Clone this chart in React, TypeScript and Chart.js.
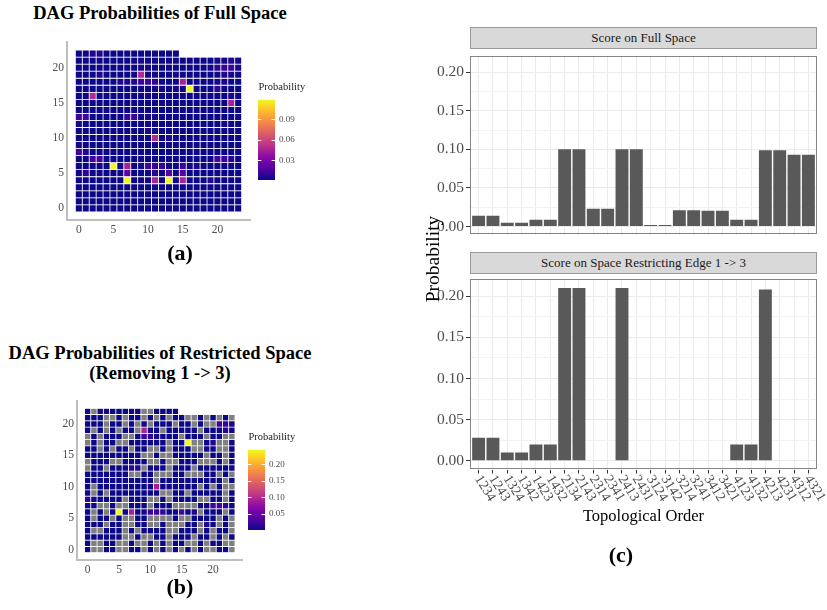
import React, { useEffect, useRef } from "react";
import { Chart, registerables } from "chart.js";

Chart.register(...registerables);

const SERIF = "'Liberation Serif', 'Times New Roman', Times, serif";

// ---------------- data ----------------
const TOPO_ORDERS = [
  "1234", "1243", "1324", "1342", "1423", "1432",
  "2134", "2143", "2314", "2341", "2413", "2431",
  "3124", "3142", "3214", "3241", "3412", "3421",
  "4123", "4132", "4213", "4231", "4312", "4321",
];
const FULL_SPACE_SCORE = [
  0.014, 0.014, 0.005, 0.005, 0.009, 0.009,
  0.1, 0.1, 0.023, 0.023, 0.1, 0.1,
  0.002, 0.002, 0.021, 0.021, 0.0205, 0.0205,
  0.009, 0.009, 0.099, 0.099, 0.093, 0.093,
];
const RESTRICTED_SPACE_SCORE = [
  0.028, 0.028, 0.01, 0.01, 0.02, 0.02,
  0.21, 0.21, 0, 0, 0.21, 0,
  0, 0, 0, 0, 0, 0,
  0.02, 0.02, 0.208, 0, 0, 0,
];
const BAR_Y_MAJOR = [0, 0.05, 0.1, 0.15, 0.2];
const BAR_Y_MINOR = [0.025, 0.075, 0.125, 0.175];
const BAR_Y_LABELS = ["0.00", "0.05", "0.10", "0.15", "0.20"];

const HEAT_AXIS_TICKS = [0, 5, 10, 15, 20];
const FULL_LEGEND_BREAKS = [0.03, 0.06, 0.09];
const FULL_LEGEND_LABELS = ["0.03", "0.06", "0.09"];
const RESTRICTED_LEGEND_BREAKS = [0.05, 0.1, 0.15, 0.2];
const RESTRICTED_LEGEND_LABELS = ["0.05", "0.10", "0.15", "0.20"];

const _ = null; // DAG not in the space (drawn grey)

// rows listed from the top of the grid (y = 22) down to y = 0; column = x
const FULL_DAG_ROWS = [
  [0.001, 0.001, 0.004, 0.006, 0.001, 0.001, 0.001, 0.002, 0.001, 0.001, 0.001, 0.002, 0.001, 0.001, 0.001],
  [0.001, 0.001, 0.001, 0.002, 0.001, 0.001, 0.001, 0.001, 0.001, 0.003, 0.001, 0.001, 0.001, 0.001, 0.002, 0.001, 0.001, 0.002, 0.001, 0.001, 0.003, 0.002, 0.005, 0.003],
  [0.001, 0.001, 0.001, 0.002, 0.001, 0.001, 0.001, 0.002, 0.001, 0.004, 0.003, 0.001, 0.001, 0.001, 0.001, 0.001, 0.001, 0.001, 0.001, 0.002, 0.008, 0.01, 0.012, 0.004],
  [0.001, 0.001, 0.001, 0.006, 0.001, 0.001, 0.001, 0.001, 0.002, 0.048, 0.002, 0.003, 0.001, 0.001, 0.003, 0.001, 0.001, 0.001, 0.001, 0.001, 0.002, 0.005, 0.003, 0.001],
  [0.001, 0.001, 0.001, 0.001, 0.001, 0.001, 0.005, 0.004, 0.005, 0.012, 0.011, 0.009, 0.001, 0.001, 0.001, 0.045, 0.001, 0.001, 0.001, 0.001, 0.003, 0.004, 0.001, 0.001],
  [0.001, 0.001, 0.001, 0.001, 0.001, 0.001, 0.001, 0.001, 0.001, 0.001, 0.001, 0.002, 0.003, 0.001, 0.003, 0.001, 0.119, 0.001, 0.001, 0.001, 0.008, 0.002, 0.001, 0.001],
  [0.001, 0.001, 0.048, 0.001, 0.001, 0.001, 0.001, 0.001, 0.001, 0.001, 0.003, 0.001, 0.001, 0.001, 0.001, 0.001, 0.001, 0.001, 0.001, 0.002, 0.001, 0.001, 0.004, 0.001],
  [0.001, 0.001, 0.001, 0.001, 0.001, 0.001, 0.001, 0.001, 0.002, 0.001, 0.001, 0.001, 0.003, 0.001, 0.001, 0.001, 0.001, 0.001, 0.001, 0.001, 0.001, 0.001, 0.045, 0.001],
  [0.001, 0.001, 0.001, 0.001, 0.003, 0.001, 0.001, 0.001, 0.001, 0.001, 0.001, 0.001, 0.001, 0.001, 0.001, 0.001, 0.001, 0.003, 0.001, 0.001, 0.001, 0.001, 0.001, 0.001],
  [0.012, 0.014, 0.001, 0.001, 0.001, 0.001, 0.001, 0.01, 0.012, 0.001, 0.004, 0.004, 0.001, 0.001, 0.001, 0.001, 0.001, 0.001, 0.001, 0.001, 0.001, 0.001, 0.001, 0.001],
  [0.004, 0.001, 0.001, 0.001, 0.001, 0.001, 0.001, 0.001, 0.001, 0.001, 0.001, 0.001, 0.001, 0.001, 0.001, 0.001, 0.001, 0.001, 0.001, 0.001, 0.001, 0.003, 0.001, 0.001],
  [0.001, 0.001, 0.001, 0.001, 0.001, 0.001, 0.001, 0.001, 0.001, 0.001, 0.003, 0.001, 0.001, 0.001, 0.001, 0.001, 0.001, 0.001, 0.001, 0.001, 0.001, 0.001, 0.001, 0.001],
  [0.001, 0.001, 0.001, 0.001, 0.001, 0.001, 0.001, 0.001, 0.001, 0.001, 0.001, 0.048, 0.001, 0.005, 0.003, 0.001, 0.001, 0.001, 0.001, 0.001, 0.001, 0.001, 0.001, 0.001],
  [0.004, 0.001, 0.001, 0.001, 0.001, 0.001, 0.001, 0.001, 0.001, 0.001, 0.001, 0.001, 0.001, 0.001, 0.001, 0.001, 0.001, 0.001, 0.001, 0.001, 0.001, 0.001, 0.001, 0.001],
  [0.012, 0.005, 0.001, 0.001, 0.001, 0.001, 0.001, 0.001, 0.001, 0.001, 0.001, 0.001, 0.001, 0.001, 0.001, 0.001, 0.001, 0.001, 0.001, 0.001, 0.001, 0.001, 0.001, 0.001],
  [0.001, 0.001, 0.012, 0.014, 0.001, 0.001, 0.001, 0.001, 0.001, 0.003, 0.001, 0.001, 0.001, 0.001, 0.001, 0.001, 0.001, 0.001, 0.001, 0.001, 0.014, 0.011, 0.007, 0.001],
  [0.001, 0.001, 0.001, 0.001, 0.001, 0.119, 0.001, 0.045, 0.001, 0.002, 0.014, 0.01, 0.01, 0.001, 0.001, 0.012, 0.001, 0.005, 0.001, 0.001, 0.001, 0.001, 0.001, 0.001],
  [0.001, 0.009, 0.001, 0.003, 0.001, 0.001, 0.001, 0.02, 0.001, 0.001, 0.001, 0.007, 0.001, 0.02, 0.001, 0.018, 0.001, 0.001, 0.001, 0.001, 0.001, 0.001, 0.001, 0.001],
  [0.001, 0.001, 0.001, 0.001, 0.001, 0.001, 0.001, 0.119, 0.001, 0.001, 0.001, 0.045, 0.001, 0.119, 0.001, 0.045, 0.001, 0.001, 0.001, 0.007, 0.001, 0.001, 0.001, 0.001],
  [0.001, 0.001, 0.001, 0.001, 0.001, 0.001, 0.001, 0.001, 0.001, 0.001, 0.001, 0.001, 0.001, 0.001, 0.001, 0.001, 0.001, 0.001, 0.001, 0.001, 0.001, 0.001, 0.001, 0.001],
  [0.001, 0.001, 0.001, 0.001, 0.001, 0.001, 0.001, 0.001, 0.001, 0.001, 0.001, 0.001, 0.001, 0.001, 0.001, 0.001, 0.001, 0.001, 0.001, 0.001, 0.001, 0.001, 0.001, 0.001],
  [0.001, 0.001, 0.001, 0.001, 0.001, 0.001, 0.001, 0.001, 0.001, 0.001, 0.001, 0.001, 0.001, 0.001, 0.001, 0.001, 0.001, 0.001, 0.001, 0.001, 0.001, 0.001, 0.001, 0.001],
  [0.001, 0.001, 0.001, 0.001, 0.001, 0.001, 0.001, 0.001, 0.001, 0.001, 0.001, 0.001, 0.001, 0.001, 0.001, 0.001, 0.001, 0.001, 0.001, 0.001, 0.001, 0.001, 0.001, 0.001],
];

const RESTRICTED_DAG_ROWS = [
  [0.001, _, 0.005, 0.004, 0.001, 0.001, 0.001, 0.001, 0.001, _, _, 0.001, 0.001, 0.001, 0.001],
  [0.001, 0.001, 0.001, _, _, 0.001, _, 0.001, 0.001, _, 0.001, _, 0.001, _, 0.001, 0.001, _, _, 0.001, _, 0.001, _, 0.001, _],
  [0.001, 0.001, 0.001, _, 0.001, 0.001, _, 0.001, _, 0.004, _, 0.001, 0.001, 0.001, _, 0.001, 0.001, _, 0.001, _, _, 0.025, 0.02, 0.004],
  [0.001, _, 0.001, _, 0.001, _, 0.001, 0.001, _, 0.095, 0.004, 0.001, _, 0.001, 0.001, 0.001, 0.001, 0.001, _, 0.001, 0.001, 0.001, 0.012, 0.001],
  [_, 0.001, _, 0.001, 0.001, 0.001, _, _, 0.001, 0.02, 0.018, 0.008, 0.001, 0.001, 0.001, _, 0.001, 0.001, 0.001, _, 0.001, 0.001, _, _],
  [_, 0.001, _, 0.001, 0.001, _, _, 0.001, 0.001, 0.001, 0.001, 0.001, 0.001, _, 0.001, 0.001, 0.245, _, _, 0.001, 0.012, _, _, 0.001],
  [0.001, 0.001, _, 0.001, _, 0.001, 0.001, _, 0.001, 0.001, _, _, 0.001, _, 0.001, 0.001, 0.001, _, _, 0.001, 0.001, _, _, 0.001],
  [0.001, 0.001, 0.001, 0.001, 0.001, 0.001, 0.001, 0.001, 0.002, _, _, 0.001, _, _, 0.001, 0.001, 0.001, 0.001, 0.001, _, 0.001, 0.001, _, 0.001],
  [_, 0.001, 0.001, 0.001, _, _, 0.001, 0.001, 0.001, 0.001, _, _, 0.001, _, _, 0.001, 0.001, 0.001, _, _, _, 0.001, _, 0.001],
  [_, 0.001, 0.001, _, 0.001, 0.001, 0.001, 0.015, 0.012, _, 0.004, 0.004, 0.001, _, 0.001, 0.001, 0.001, _, 0.001, 0.001, 0.001, 0.001, 0.001, 0.001],
  [0.004, 0.001, 0.001, 0.001, 0.001, 0.001, 0.001, _, _, 0.001, 0.001, _, _, _, 0.001, 0.001, _, _, _, 0.001, 0.001, _, 0.001, _],
  [0.001, 0.001, 0.001, 0.001, 0.001, 0.001, 0.001, 0.001, 0.001, 0.001, 0.004, _, 0.001, 0.001, 0.001, 0.001, 0.001, 0.001, 0.001, 0.001, 0.001, 0.001, _, 0.001],
  [0.001, _, 0.001, 0.001, 0.001, 0.001, 0.001, 0.001, 0.001, 0.001, 0.001, 0.09, 0.001, 0.006, 0.003, 0.001, 0.001, 0.001, _, 0.001, _, 0.001, _, _],
  [0.004, _, 0.001, _, 0.001, 0.001, 0.001, 0.001, 0.001, 0.001, 0.001, 0.001, _, _, 0.001, 0.001, _, 0.001, 0.001, 0.001, 0.001, 0.001, _, 0.001],
  [0.016, 0.006, 0.001, 0.001, 0.001, 0.001, _, 0.001, 0.001, 0.001, _, _, 0.001, _, 0.001, 0.001, 0.001, 0.001, _, _, 0.001, 0.001, _, 0.001],
  [0.001, 0.001, _, _, 0.001, _, _, 0.001, 0.001, 0.004, _, 0.001, 0.001, 0.001, _, _, _, _, 0.001, 0.001, 0.025, 0.03, 0.018, 0.001],
  [0.001, _, 0.001, _, 0.001, 0.245, 0.001, 0.09, 0.001, 0.004, 0.025, 0.02, 0.02, 0.001, 0.001, 0.028, 0.001, 0.008, _, 0.001, 0.001, 0.001, _, 0.001],
  [0.001, _, 0.001, 0.001, _, 0.001, _, _, 0.001, 0.001, _, _, _, _, 0.001, _, _, 0.001, 0.001, 0.001, 0.001, _, 0.001, _],
  [0.001, 0.001, 0.001, _, 0.001, 0.001, _, _, 0.001, 0.001, _, _, 0.001, _, _, _, 0.001, 0.001, _, 0.01, 0.001, _, 0.001, _],
  [0.001, _, _, 0.001, 0.001, 0.001, _, 0.001, _, 0.001, 0.001, 0.001, 0.001, _, _, 0.001, 0.001, 0.001, _, 0.001, _, 0.001, 0.001, _],
  [0.001, 0.001, 0.001, 0.001, 0.001, 0.001, _, _, 0.001, _, _, 0.001, 0.001, _, 0.001, 0.001, 0.001, _, 0.001, 0.001, _, 0.001, _, 0.001],
  [0.001, _, _, 0.001, 0.001, _, _, 0.001, _, _, 0.001, _, 0.001, _, 0.001, 0.001, _, _, 0.001, _, 0.001, 0.001, _, _],
  [0.001, _, _, 0.001, 0.001, _, _, 0.001, 0.001, _, 0.001, _, 0.001, _, 0.001, _, 0.001, _, 0.001, _, _, 0.001, 0.001, _],
];

// plasma palette stops (colour scale, not data)
const PLASMA = [
  "#0d0887", "#41049d", "#6a00a8", "#8f0da4", "#b12a90", "#cc4778",
  "#e16462", "#f2844b", "#fca636", "#fcce25", "#f0f921",
];
const NA_COLOR = "#808080";

// ---------------- helpers ----------------
function hexRgb(h: string) {
  const n = parseInt(h.slice(1), 16);
  return [(n >> 16) & 255, (n >> 8) & 255, n & 255];
}
function plasma(t: number) {
  const c = Math.max(0, Math.min(1, t));
  const p = c * (PLASMA.length - 1);
  const i = Math.min(PLASMA.length - 2, Math.floor(p));
  const f = p - i;
  const a = hexRgb(PLASMA[i]);
  const b = hexRgb(PLASMA[i + 1]);
  const m = a.map((v, k) => Math.round(v + (b[k] - v) * f));
  return `rgb(${m[0]},${m[1]},${m[2]})`;
}
function valueRange(rows: (number | null)[][]) {
  let min = Infinity;
  let max = -Infinity;
  rows.forEach((r) =>
    r.forEach((v) => {
      if (v !== null) {
        min = Math.min(min, v);
        max = Math.max(max, v);
      }
    })
  );
  return { min, max };
}

const noInteraction = {
  animation: false as const,
  responsive: false,
  maintainAspectRatio: false,
  events: [] as any[],
};

function heatConfig(rows: (number | null)[][], padTop: number, padRight: number) {
  const { min, max } = valueRange(rows);
  const topY = rows.length - 1;
  const datasets = rows.map((row, r) => {
    const y = topY - r;
    return {
      data: row.map((_v, x) => ({ x, y: [y - 0.5, y + 0.5] })),
      backgroundColor: row.map((v) => (v === null ? NA_COLOR : plasma((v - min) / (max - min)))),
      borderColor: "rgba(255,255,255,0.65)",
      borderWidth: 0.4,
      borderSkipped: false,
      grouped: false,
      barPercentage: 1,
      categoryPercentage: 1,
      inflateAmount: 0,
    };
  });
  const axisTicks = {
    color: "#4D4D4D",
    font: { family: SERIF, size: 11.5 },
    padding: 3,
    autoSkip: false,
    maxRotation: 0,
  };
  return {
    type: "bar",
    data: { datasets },
    options: {
      ...noInteraction,
      layout: { padding: { top: padTop, right: padRight, left: 0, bottom: 0 } },
      plugins: { legend: { display: false }, tooltip: { enabled: false } },
      scales: {
        x: {
          type: "linear",
          offset: false,
          min: -1.7,
          max: 24.7,
          afterBuildTicks: (a: any) => {
            a.ticks = HEAT_AXIS_TICKS.map((v) => ({ value: v }));
          },
          afterFit: (s: any) => {
            s.height = 25;
          },
          grid: { display: false, drawTicks: false, offset: false },
          border: { display: true, color: "#BEBEBE", width: 2 },
          ticks: axisTicks,
        },
        y: {
          type: "linear",
          offset: false,
          min: -1.65,
          max: 23.65,
          afterBuildTicks: (a: any) => {
            a.ticks = HEAT_AXIS_TICKS.map((v) => ({ value: v }));
          },
          afterFit: (s: any) => {
            s.width = 37;
          },
          grid: { display: false, drawTicks: false },
          border: { display: true, color: "#BEBEBE", width: 2 },
          ticks: axisTicks,
        },
      },
    },
  };
}

const colorbarTicks = {
  id: "colorbarTicks",
  afterDatasetsDraw(chart: any) {
    const ys = chart.scales.y;
    const a = chart.chartArea;
    const ctx = chart.ctx;
    const w = (a.right - a.left) / 5;
    ctx.save();
    ctx.strokeStyle = "#FFFFFF";
    ctx.lineWidth = 1;
    ys.ticks.forEach((t: any) => {
      const y = Math.round(ys.getPixelForValue(t.value)) + 0.5;
      ctx.beginPath();
      ctx.moveTo(a.left, y);
      ctx.lineTo(a.left + w, y);
      ctx.moveTo(a.right - w, y);
      ctx.lineTo(a.right, y);
      ctx.stroke();
    });
    ctx.restore();
  },
};

function legendConfig(rows: (number | null)[][], breaks: number[], labels: string[]) {
  const { min, max } = valueRange(rows);
  return {
    type: "bar",
    data: {
      labels: ["Probability"],
      datasets: [
        {
          data: [[min, max]],
          backgroundColor: (c: any) => {
            const a = c.chart.chartArea;
            if (!a) return PLASMA[0];
            const g = c.chart.ctx.createLinearGradient(0, a.bottom, 0, a.top);
            PLASMA.forEach((col, i) => g.addColorStop(i / (PLASMA.length - 1), col));
            return g;
          },
          borderWidth: 0,
          barPercentage: 1,
          categoryPercentage: 1,
          inflateAmount: 0,
        },
      ],
    },
    options: {
      ...noInteraction,
      layout: { padding: { left: 8, top: 7, bottom: 10, right: 0 } },
      plugins: { legend: { display: false }, tooltip: { enabled: false } },
      scales: {
        x: { display: false },
        y: {
          position: "right",
          min,
          max,
          afterBuildTicks: (a: any) => {
            a.ticks = breaks.map((v) => ({ value: v }));
          },
          afterFit: (s: any) => {
            s.width = 35;
          },
          ticks: {
            callback: (_v: any, i: number) => labels[i],
            color: "#4D4D4D",
            font: { family: SERIF, size: 9 },
            padding: 4,
          },
          grid: { display: false, drawTicks: false },
          border: { display: false },
        },
      },
    },
    plugins: [colorbarTicks],
  };
}

const panelBorder = {
  id: "panelBorder",
  afterDraw(chart: any) {
    const a = chart.chartArea;
    const ctx = chart.ctx;
    ctx.save();
    ctx.strokeStyle = "rgba(51,51,51,0.6)";
    ctx.lineWidth = 1;
    ctx.strokeRect(
      Math.round(a.left) + 0.5,
      Math.round(a.top) + 0.5,
      Math.round(a.right - a.left) - 1,
      Math.round(a.bottom - a.top) - 1
    );
    ctx.restore();
  },
};

const LABEL_ANGLE = (58 * Math.PI) / 180;
const rotatedLabels = {
  id: "rotatedLabels",
  afterDraw(chart: any) {
    const xs = chart.scales.x;
    const a = chart.chartArea;
    const ctx = chart.ctx;
    ctx.save();
    ctx.fillStyle = "#4D4D4D";
    ctx.font = `14px ${SERIF}`;
    ctx.textAlign = "left";
    ctx.textBaseline = "middle";
    TOPO_ORDERS.forEach((lab, i) => {
      const px = xs.getPixelForValue(i);
      ctx.save();
      ctx.translate(px - 1, a.bottom + 7);
      ctx.rotate(LABEL_ANGLE);
      ctx.fillText(lab, 0, 0);
      ctx.restore();
    });
    ctx.restore();
  },
};

const isMajor = (v: number) => BAR_Y_MAJOR.some((m) => Math.abs(m - v) < 1e-9);

function barConfig(values: number[], bottomPanel: boolean) {
  const yTicks = [...BAR_Y_MAJOR, ...BAR_Y_MINOR].sort((p, q) => p - q);
  return {
    type: "bar",
    data: {
      datasets: [
        {
          data: values.map((v, i) => ({ x: i, y: v })),
          backgroundColor: "#595959",
          borderWidth: 0,
          barPercentage: 0.9,
          categoryPercentage: 1,
        },
      ],
    },
    options: {
      ...noInteraction,
      layout: { padding: { top: bottomPanel ? 5.5 : 5, right: 10, left: 0, bottom: 0 } },
      plugins: { legend: { display: false }, tooltip: { enabled: false } },
      scales: {
        x: {
          type: "linear",
          offset: false,
          min: -0.6,
          max: 23.6,
          afterBuildTicks: (a: any) => {
            a.ticks = TOPO_ORDERS.map((_l, i) => ({ value: i }));
          },
          afterFit: (s: any) => {
            s.height = bottomPanel ? 60.5 : 0;
          },
          ticks: { display: false },
          grid: {
            offset: false,
            color: "#EBEBEB",
            lineWidth: 1,
            drawTicks: bottomPanel,
            tickLength: 4,
            tickColor: "#333333",
            tickWidth: 1,
          },
          border: { display: false },
        },
        y: {
          type: "linear",
          min: -0.0105,
          max: 0.2205,
          afterBuildTicks: (a: any) => {
            a.ticks = yTicks.map((v) => ({ value: v }));
          },
          afterFit: (s: any) => {
            s.width = 50;
          },
          ticks: {
            callback: (v: number) => {
              const k = BAR_Y_MAJOR.findIndex((m) => Math.abs(m - v) < 1e-9);
              return k >= 0 ? BAR_Y_LABELS[k] : "";
            },
            color: "#4D4D4D",
            font: { family: SERIF, size: 15.5 },
            padding: 2,
            autoSkip: false,
          },
          grid: {
            color: (c: any) => (c.tick && isMajor(c.tick.value) ? "#EBEBEB" : "#F3F3F3"),
            lineWidth: 1,
            drawTicks: true,
            tickLength: 4,
            tickColor: (c: any) => (c.tick && isMajor(c.tick.value) ? "#333333" : "rgba(0,0,0,0)"),
            tickWidth: 1,
          },
          border: { display: false },
        },
      },
    },
    plugins: bottomPanel ? [panelBorder, rotatedLabels] : [panelBorder],
  };
}

// ---------------- components ----------------
function ChartCanvas(props: { left: number; top: number; width: number; height: number; make: () => any }) {
  const ref = useRef<HTMLCanvasElement | null>(null);
  useEffect(() => {
    const chart = new Chart(ref.current as HTMLCanvasElement, props.make());
    return () => chart.destroy();
  }, []);
  return (
    <canvas
      ref={ref}
      width={props.width}
      height={props.height}
      style={{
        position: "absolute",
        left: props.left,
        top: props.top,
        width: props.width,
        height: props.height,
      }}
    />
  );
}

function Txt(props: {
  x: number;
  y: number;
  size: number;
  bold?: boolean;
  align?: "center" | "left";
  color?: string;
  children: React.ReactNode;
}) {
  const { x, y, size, bold, align = "center", color = "#000" } = props;
  const style: React.CSSProperties = {
    position: "absolute",
    top: y - 0.8375 * size,
    fontFamily: SERIF,
    fontSize: size,
    fontWeight: bold ? 700 : 400,
    lineHeight: `${size}px`,
    whiteSpace: "nowrap",
    color,
  };
  if (align === "center") {
    style.left = x - 300;
    style.width = 600;
    style.textAlign = "center";
  } else {
    style.left = x;
  }
  return <div style={style}>{props.children}</div>;
}

function Strip(props: { top: number; height: number; children: React.ReactNode }) {
  return (
    <div
      style={{
        position: "absolute",
        left: 470,
        top: props.top,
        width: 347,
        height: props.height,
        boxSizing: "border-box",
        background: "#D9D9D9",
        border: "1px solid #9A9A9A",
        display: "flex",
        alignItems: "center",
        justifyContent: "center",
        fontFamily: SERIF,
        fontSize: 13,
        color: "#1A1A1A",
        whiteSpace: "nowrap",
      }}
    >
      {props.children}
    </div>
  );
}

export default function App() {
  return (
    <div
      style={{
        position: "fixed",
        left: 0,
        top: 0,
        width: 827,
        height: 610,
        background: "#FFFFFF",
        overflow: "hidden",
      }}
    >
      {/* (a) full-space heatmap */}
      <Txt x={160} y={19.5} size={18.5} bold>
        DAG Probabilities of Full Space
      </Txt>
      <ChartCanvas left={30} top={30} width={230} height={215} make={() => heatConfig(FULL_DAG_ROWS, 12, 10)} />
      <Txt x={258.5} y={90.5} size={10.5} align="left" color="#1A1A1A">
        Probability
      </Txt>
      <ChartCanvas
        left={250}
        top={90}
        width={60}
        height={100}
        make={() => legendConfig(FULL_DAG_ROWS, FULL_LEGEND_BREAKS, FULL_LEGEND_LABELS)}
      />
      <Txt x={180} y={260} size={22} bold>
        (a)
      </Txt>

      {/* (b) restricted-space heatmap */}
      <Txt x={160} y={359} size={18.5} bold>
        DAG Probabilities of Restricted Space
      </Txt>
      <Txt x={160} y={379.5} size={18.5} bold>
        (Removing 1 -&gt; 3)
      </Txt>
      <ChartCanvas left={40} top={390} width={212} height={195} make={() => heatConfig(RESTRICTED_DAG_ROWS, 11, 9.5)} />
      <Txt x={248.5} y={440.5} size={10.5} align="left" color="#1A1A1A">
        Probability
      </Txt>
      <ChartCanvas
        left={240}
        top={440}
        width={60}
        height={100}
        make={() => legendConfig(RESTRICTED_DAG_ROWS, RESTRICTED_LEGEND_BREAKS, RESTRICTED_LEGEND_LABELS)}
      />
      <Txt x={180} y={594} size={22} bold>
        (b)
      </Txt>

      {/* (c) faceted bar chart */}
      <Strip top={27} height={22}>
        Score on Full Space
      </Strip>
      <ChartCanvas left={420} top={45} width={407} height={201} make={() => barConfig(FULL_SPACE_SCORE, false)} />
      <Strip top={252} height={21.5}>
        Score on Space Restricting Edge 1 -&gt; 3
      </Strip>
      <ChartCanvas left={420} top={268} width={407} height={262} make={() => barConfig(RESTRICTED_SPACE_SCORE, true)} />
      <div
        style={{
          position: "absolute",
          left: 433 - 150,
          top: 258.5 - 10,
          width: 300,
          height: 20,
          lineHeight: "20px",
          textAlign: "center",
          fontFamily: SERIF,
          fontSize: 19.5,
          color: "#000",
          transform: "rotate(-90deg)",
          transformOrigin: "50% 50%",
          whiteSpace: "nowrap",
        }}
      >
        Probability
      </div>
      <Txt x={643.5} y={522} size={16.5}>
        Topological Order
      </Txt>
      <Txt x={621} y={562} size={22} bold>
        (c)
      </Txt>
    </div>
  );
}
